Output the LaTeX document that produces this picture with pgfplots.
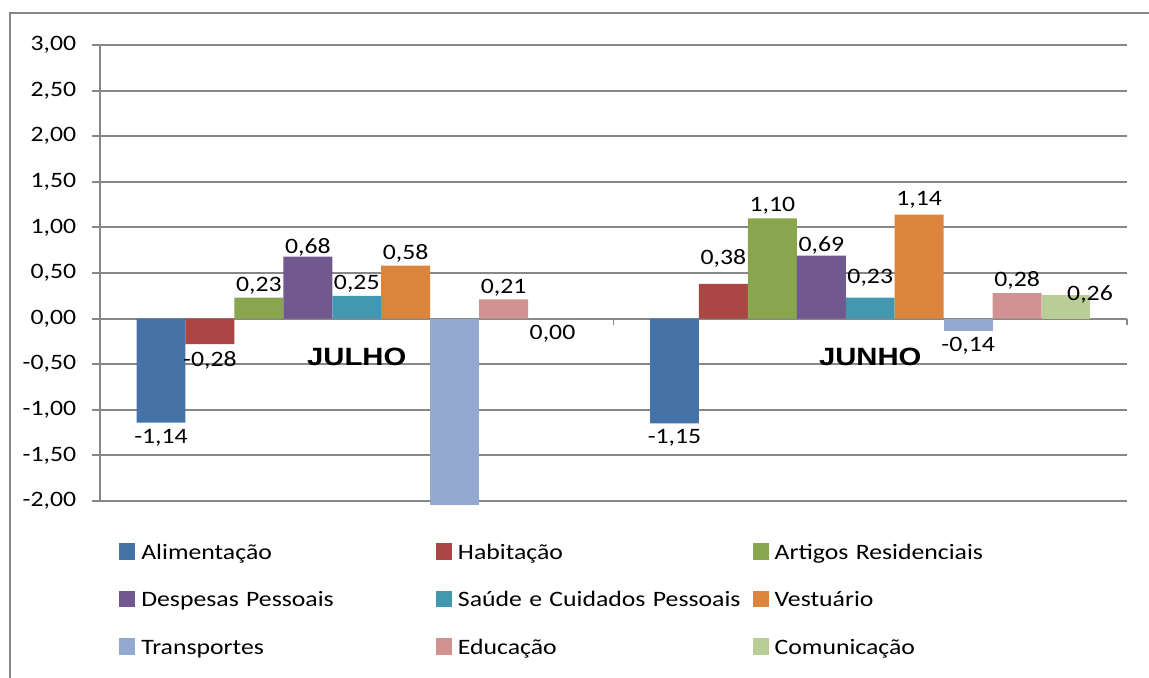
\documentclass[border=0pt]{standalone}
\usepackage{pgfplots}
\pgfplotsset{compat=1.18}
\usepackage{fontspec}
\setmainfont{Carlito}[FakeStretch=1.17]
\newfontfamily\arialf{Liberation Sans}[FakeStretch=1.17]
\definecolor{c1}{HTML}{4572A7}
\definecolor{c2}{HTML}{AA4643}
\definecolor{c3}{HTML}{89A54E}
\definecolor{c4}{HTML}{71588F}
\definecolor{c5}{HTML}{4198AF}
\definecolor{c6}{HTML}{DB843D}
\definecolor{c7}{HTML}{93A9CF}
\definecolor{c8}{HTML}{D19392}
\definecolor{c9}{HTML}{B9CD96}
\definecolor{gridgray}{HTML}{878787}
\newcommand{\lbfont}{\fontsize{13.2pt}{15pt}\selectfont}
\pgfplotsset{
  sq/.style={fill=#1, draw=none,
    legend image code/.code={\fill[fill=#1] (0pt,-3.4pt) rectangle (9.6pt,6.4pt);}},
  lab/.style={nodes near coords,
    visualization depends on={\thisrow{dx}\as\dx},
    visualization depends on={\thisrow{dy}\as\dy},
    every node near coord/.append style={xshift=\dx pt, yshift=\dy pt}},
}
\begin{document}
\begin{tikzpicture}
\useasboundingbox (0,0) rectangle (689.4pt,-406.2pt);
\draw[line width=1.2pt, color=gridgray] (6pt,-420pt) -- (6pt,-7.8pt) -- (700pt,-7.8pt);
\begin{axis}[
  at={(60pt,-300.6pt)}, anchor=south west, scale only axis,
  width=616.2pt, height=273.6pt,
  xmin=-0.5, xmax=1.5, ymin=-2, ymax=3,
  clip=false,
  ybar=0pt, bar width=0.0953,
  axis x line*=middle, axis y line*=left,
  ytick={-2,-1.5,-1,-0.5,0,0.5,1,1.5,2,2.5,3},
  ymajorgrids, grid style={line width=1.1pt, gridgray},
  axis line style={line width=1.1pt, gridgray},
  xtick={0,1}, xticklabels={JULHO,JUNHO},
  major x tick style={draw=none},
  minor xtick={-0.5,0.5,1.5},
  minor x tick style={line width=1.1pt, gridgray},
  major y tick style={line width=1.1pt, gridgray},
  tick align=outside, major tick length=4.8pt, minor tick length=3.6pt,
  /pgf/number format/use comma, /pgf/number format/fixed,
  /pgf/number format/fixed zerofill, /pgf/number format/precision=2,
  /pgf/number format/assume math mode=true,
  yticklabel style={font=\lbfont, text=black, xshift=-6pt},
  xticklabel style={font=\arialf\bfseries\fontsize{15pt}{17pt}\selectfont, text=black, anchor=base, yshift=-23.4pt},
  every node near coord/.append style={font=\lbfont, text=black, inner ysep=3.6pt, text depth=0pt},
  legend columns=3,
  legend style={at={(0.0185,-0.0922)}, anchor=north west, draw=none, fill=none,
    inner sep=0pt, column sep=0pt, row sep=16.1pt,
    nodes={font=\lbfont, text width=173.2pt, inner xsep=3.6pt, inner ysep=0pt,
      text height=9pt, text depth=3pt, align=left}},
]
\addplot[bar shift=-0.3812, sq=c1, lab] table {
x y dx dy
0 -1.14 0 0
1 -1.15 0 0
};
\addlegendentry{Alimentação}
\addplot[bar shift=-0.2859, sq=c2, lab] table {
x y dx dy
0 -0.28 0 -0.6
1 0.38 0 7.8
};
\addlegendentry{Habitação}
\addplot[bar shift=-0.1906, sq=c3, lab] table {
x y dx dy
0 0.23 0 0
1 1.10 0 0
};
\addlegendentry{Artigos Residenciais}
\addplot[bar shift=-0.0953, sq=c4, lab] table {
x y dx dy
0 0.68 0 -1.8
1 0.69 0 -1.2
};
\addlegendentry{Despesas Pessoais}
\addplot[bar shift=0, sq=c5, lab] table {
x y dx dy
0 0.25 0 0
1 0.23 0 4.8
};
\addlegendentry{Saúde e Cuidados Pessoais}
\addplot[bar shift=0.0953, sq=c6, lab] table {
x y dx dy
0 0.58 0 0
1 1.14 0 1.8
};
\addlegendentry{Vestuário}
\addplot[bar shift=0.1906, sq=c7, forget plot] table {
x y
0 -2.04
};
\addplot[bar shift=0.1906, sq=c7, lab] table {
x y dx dy
1 -0.14 0 0
};
\addlegendentry{Transportes}
\addplot[bar shift=0.2859, sq=c8, lab] table {
x y dx dy
0 0.21 0 0
1 0.28 0 0
};
\addlegendentry{Educação}
\addplot[bar shift=0.3812, sq=c9, forget plot, nodes near coords, nodes near coords align=below] table {
x y
0 0
};
\addplot[bar shift=0.3812, sq=c9, lab] table {
x y dx dy
1 0.26 14.4 -7.2
};
\addlegendentry{Comunicação}
\end{axis}
\end{tikzpicture}
\end{document}
